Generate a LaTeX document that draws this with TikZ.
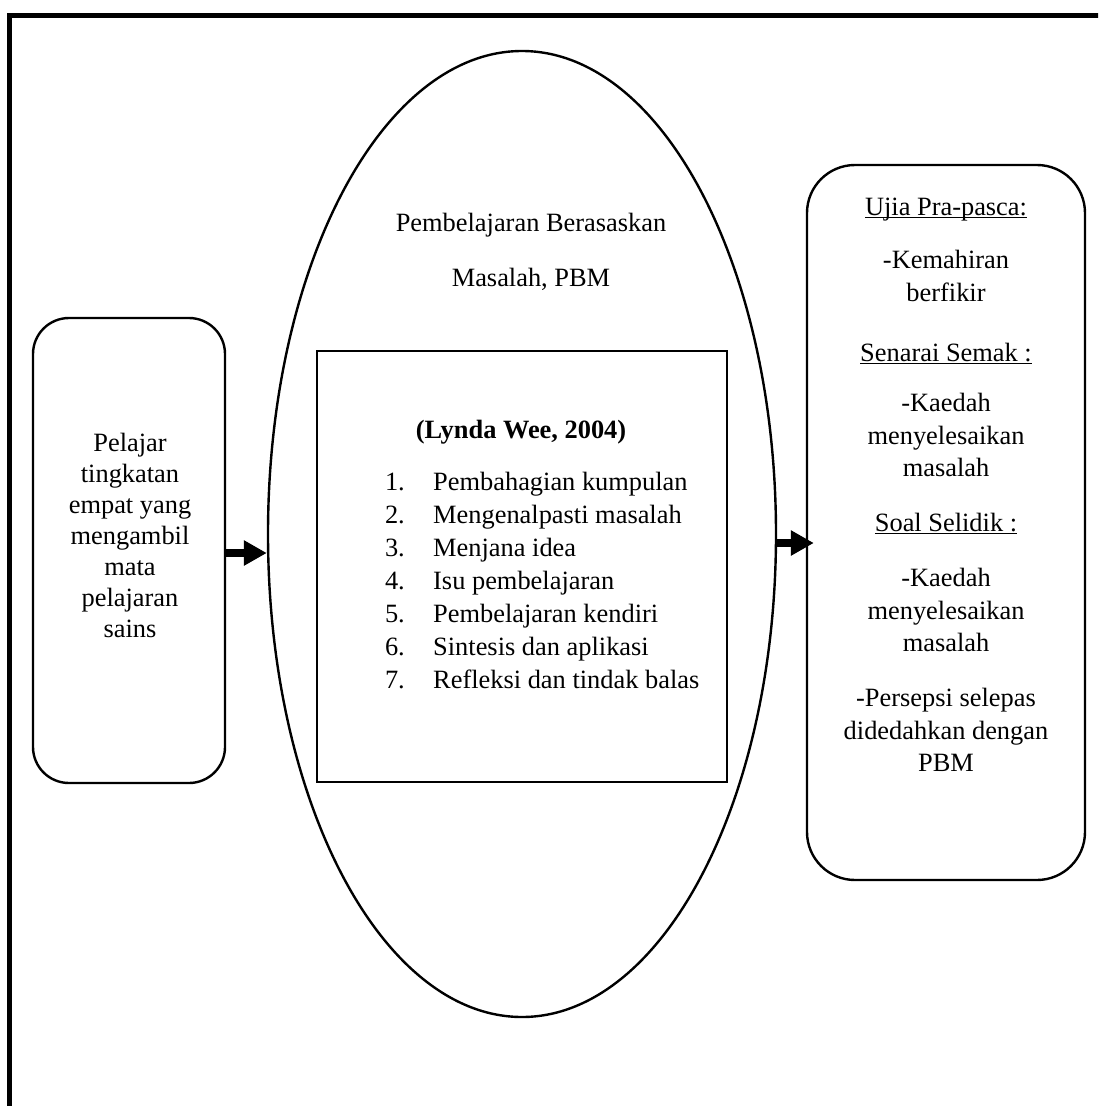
\documentclass[tikz,border=0pt]{standalone}
\usepackage{fontspec}
\setmainfont{Liberation Serif}
\usetikzlibrary{shapes.geometric,arrows.meta}
\newcommand\myul[1]{\leavevmode\setbox0\hbox{#1}\rlap{\rule[-3pt]{\wd0}{1.4pt}}\box0}
\tikzset{
  shp/.style={draw, line width=2.4pt, inner sep=0pt},
  txt/.style={anchor=base, inner sep=0pt, font=\fontsize{26.4}{32.5}\selectfont},
  txtw/.style={txt, anchor=base west},
  txte/.style={txt, anchor=base east},
  bigarrow/.style={line width=8pt, -{Triangle[length=23pt,width=24pt]}}
}
\begin{document}
\begin{tikzpicture}[x=1pt,y=-1pt]
\useasboundingbox (0,0) rectangle (1098,1106);
\clip (0,0) rectangle (1098,1106);
\fill[white] (0,0) rectangle (1098,1106);
% frame
\draw[line width=5.6pt] (9.5,1130) -- (9.5,15.5) -- (1130,15.5);
% shapes
\node[shp, rounded corners=36pt, minimum width=192, minimum height=465] (lb) at (129,550.5) {};
\node[shp, ellipse, minimum width=508, minimum height=966] (ell) at (522,534) {};
\node[shp, minimum width=410, minimum height=431] (inner) at (522,566.5) {};
\node[shp, rounded corners=48pt, minimum width=278, minimum height=715] (rb) at (946,522.5) {};
% left box text
\node[txt] (l1) at (130,451) {Pelajar};
\node[txt] (l2) at (130,482) {tingkatan};
\node[txt] (l3) at (130,513) {empat yang};
\node[txt] (l4) at (130,544) {mengambil};
\node[txt] (l5) at (130,575) {mata};
\node[txt] (l6) at (130,606) {pelajaran};
\node[txt] (l7) at (130,637) {sains};
% ellipse text
\node[txt] (e1) at (531,231) {Pembelajaran Berasaskan};
\node[txt] (e2) at (531,286) {Masalah, PBM};
\node[txt] (lw) at (521,438) {\bfseries (Lynda Wee, 2004)};
\foreach \n/\t [count=\k from 0] in {1/Pembahagian kumpulan,2/Mengenalpasti masalah,3/Menjana idea,4/Isu pembelajaran,5/Pembelajaran kendiri,6/Sintesis dan aplikasi,7/Refleksi dan tindak balas}{
  \node[txte] (n\n) at (405,490+33*\k) {\n.};
  \node[txtw] (t\n) at (433,490+33*\k) {\t};
}
% right box text
\node[txt] (r1) at (946,215) {\myul{Ujia Pra-pasca:}};
\node[txt] (r2) at (946,268) {-Kemahiran};
\node[txt] (r3) at (946,301) {berfikir};
\node[txt] (r4) at (946,361) {\myul{Senarai Semak :}};
\node[txt] (r5) at (946,411) {-Kaedah};
\node[txt] (r6) at (946,444) {menyelesaikan};
\node[txt] (r7) at (946,476) {masalah};
\node[txt] (r8) at (946,531) {\myul{Soal Selidik :}};
\node[txt] (r9) at (946,586) {-Kaedah};
\node[txt] (r10) at (946,619) {menyelesaikan};
\node[txt] (r11) at (946,651) {masalah};
\node[txt] (r12) at (946,706) {-Persepsi selepas};
\node[txt] (r13) at (946,739) {didedahkan dengan};
\node[txt] (r14) at (946,771) {PBM};
% arrows
\coordinate (a1) at (lb.east |- 0,553);
\coordinate (a2) at (ell.east |- 0,543);
\draw[bigarrow] (a1) -- (ell.west |- a1);
\draw[bigarrow] (a2) -- ([xshift=8pt]rb.west |- a2);
\end{tikzpicture}
\end{document}
